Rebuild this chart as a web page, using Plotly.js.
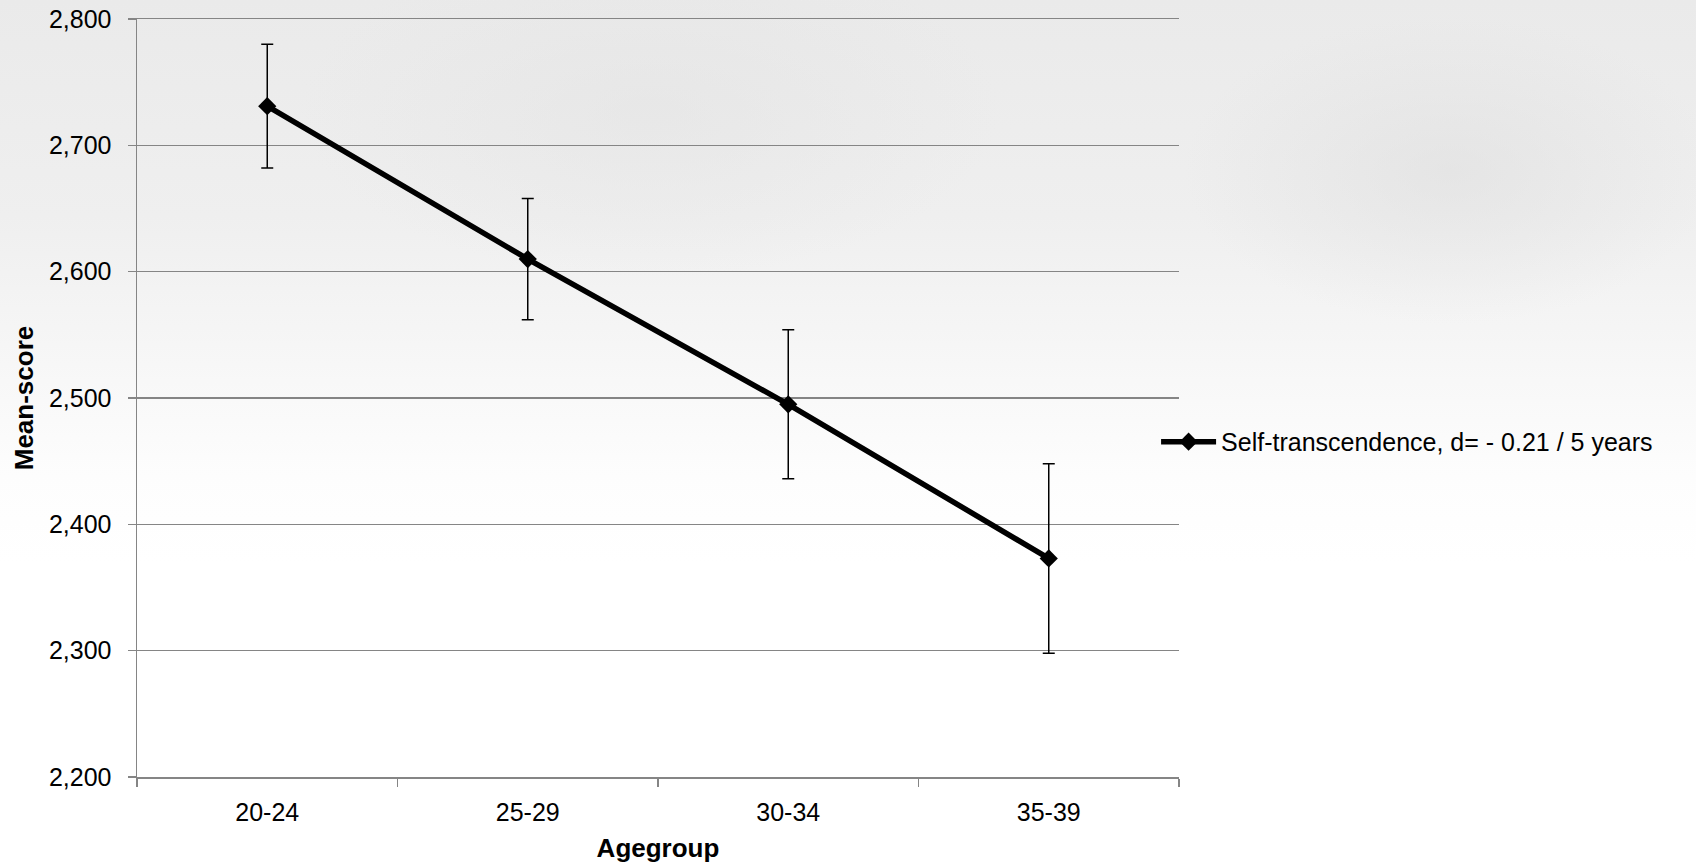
<!DOCTYPE html>
<html>
<head>
<meta charset="utf-8">
<script src="https://cdn.plot.ly/plotly-3.0.1.min.js"></script>
<style>
  html, body { margin: 0; padding: 0; }
  body {
    width: 1696px; height: 865px; overflow: hidden;
    background:
      radial-gradient(ellipse 380px 220px at 1450px 170px, rgba(220,220,220,0.5), rgba(255,255,255,0) 70%),
      radial-gradient(ellipse 500px 240px at 650px 110px, rgba(225,225,225,0.45), rgba(255,255,255,0) 70%),
      linear-gradient(to bottom, #eaeaea 0%, #efefef 25%, #f7f7f7 42%, #fdfdfd 55%, #ffffff 65%, #ffffff 100%);
  }
  #chart { width: 1696px; height: 865px; }
</style>
</head>
<body>
<div id="chart"></div>
<script>
// ---- data ----
const ageGroups = ["20-24", "25-29", "30-34", "35-39"];
const meanScores = [2731, 2610, 2495, 2373];
const errorMargins = [49, 48, 59, 75];
const seriesName = "Self-transcendence, d= - 0.21 / 5 years";
const xTitle = "Agegroup";
const yTitle = "Mean-score";

const FONT = "Liberation Sans, Arial, sans-serif";
const GRAY = "#858585";

const trace = {
  type: "scatter",
  mode: "lines+markers",
  x: ageGroups,
  y: meanScores,
  name: seriesName,
  showlegend: true,
  line: { color: "#000000", width: 5.5 },
  marker: { symbol: "diamond", size: 14, color: "#000000" },
  error_y: {
    type: "data",
    array: errorMargins,
    visible: true,
    color: "#000000",
    thickness: 1.5,
    width: 6
  }
};

const layout = {
  width: 1696,
  height: 865,
  paper_bgcolor: "rgba(0,0,0,0)",
  plot_bgcolor: "rgba(0,0,0,0)",
  margin: { l: 137, r: 517, t: 19, b: 88, pad: 0 },
  font: { family: FONT, size: 25, color: "#000000" },
  showlegend: true,
  legend: {
    x: 0.978, xanchor: "left",
    y: 0.442, yanchor: "middle",
    bgcolor: "rgba(0,0,0,0)",
    font: { family: FONT, size: 25, color: "#000000" },
    itemwidth: 55
  },
  xaxis: {
    type: "category",
    range: [-0.5, 3.5],
    tickson: "boundaries",
    ticks: "outside",
    ticklen: 8,
    tickcolor: GRAY,
    tickwidth: 1.5,
    ticklabelstandoff: 12,
    showline: true,
    mirror: true,
    linecolor: GRAY,
    linewidth: 1.5,
    showgrid: false,
    zeroline: false,
    tickfont: { family: FONT, size: 25, color: "#000000" },
    title: { text: "<b>" + xTitle + "</b>", font: { family: FONT, size: 26, color: "#000000" }, standoff: 14 }
  },
  yaxis: {
    range: [2200, 2800],
    dtick: 100,
    tick0: 2200,
    tickformat: ",d",
    ticks: "outside",
    ticklen: 8,
    tickcolor: GRAY,
    tickwidth: 1.5,
    ticklabelstandoff: 11,
    showline: true,
    linecolor: GRAY,
    linewidth: 1.5,
    showgrid: true,
    gridcolor: GRAY,
    gridwidth: 1.5,
    zeroline: false,
    tickfont: { family: FONT, size: 25, color: "#000000" },
    title: { text: "<b>" + yTitle + "</b>", font: { family: FONT, size: 26, color: "#000000" }, standoff: 8 }
  }
};

Plotly.newPlot("chart", [trace], layout, { displayModeBar: false, staticPlot: true });
</script>
</body>
</html>
